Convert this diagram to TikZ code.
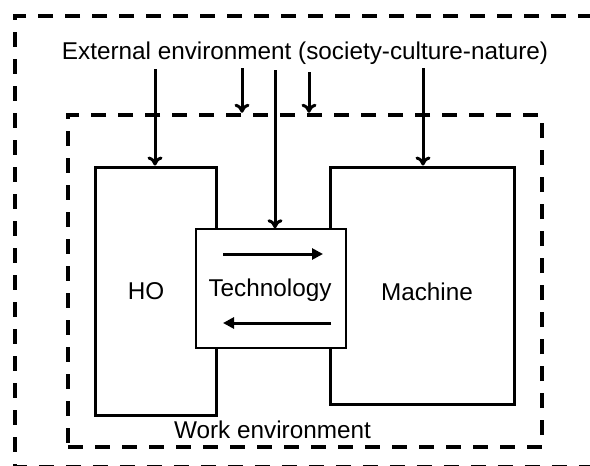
\documentclass[tikz,border=0pt]{standalone}
\usepackage{fontspec}
\setmainfont{Liberation Sans}
\usetikzlibrary{arrows.meta}
\begin{document}
\begin{tikzpicture}[x=1pt,y=-1pt,
  lbl/.style={inner sep=0pt, anchor=base, font=\fontsize{24.3}{28}\selectfont},
  frame/.style={draw, line width=4.5pt, dash pattern=on 15pt off 12pt},
  bigbox/.style={draw, line width=3pt, inner sep=0pt, fill=white},
  techbox/.style={draw, line width=1.5pt, inner sep=0pt, fill=white},
  varrow/.style={line width=3pt, -{To[length=9pt,width=15pt]}},
  harrow/.style={line width=3pt, -{Triangle[length=11pt,width=11pt]}}]
\useasboundingbox (0,0) rectangle (590,466);
\begin{scope}
  \clip (0,0) rectangle (590,466);
  \draw[frame] (620,16) -- (15,16) -- (15,467.2) -- (620,467.2);
\end{scope}
\node[frame, inner sep=0pt, minimum width=474pt, minimum height=332pt] (work) at (305,281) {};
\node[bigbox, minimum width=121pt, minimum height=248pt] (ho) at (155.5,291) {};
\node[bigbox, minimum width=184pt, minimum height=237pt] (machine) at (422,285.5) {};
\node[techbox, minimum width=150pt, minimum height=119pt] (tech) at (271,288.5) {};
\node[lbl] (ext) at (305,59) {External environment (society-culture-nature)};
\node[lbl] (holbl) at (146,299) {HO};
\node[lbl] (techlbl) at (270,296) {Technology};
\node[lbl] (maclbl) at (427,300) {Machine};
\node[lbl] (worklbl) at (272.5,438) {Work environment};
\coordinate (s1) at (155,69);
\coordinate (s2) at (242,68);
\coordinate (s3) at (275,70);
\coordinate (s4) at (309,72);
\coordinate (s5) at (423,68);
\draw[varrow] (s1) -- (s1 |- ho.north);
\draw[varrow] (s2) -- (s2 |- work.north);
\draw[varrow] (s3) -- (s3 |- tech.north);
\draw[varrow] (s4) -- (s4 |- work.north);
\draw[varrow] (s5) -- (s5 |- machine.north);
\coordinate (t1) at (223,254);
\coordinate (t2) at (323,254);
\coordinate (b1) at (331,323);
\coordinate (b2) at (223,323);
\draw[harrow] (t1) -- (t2);
\draw[harrow] (b1) -- (b2);
\end{tikzpicture}
\end{document}
